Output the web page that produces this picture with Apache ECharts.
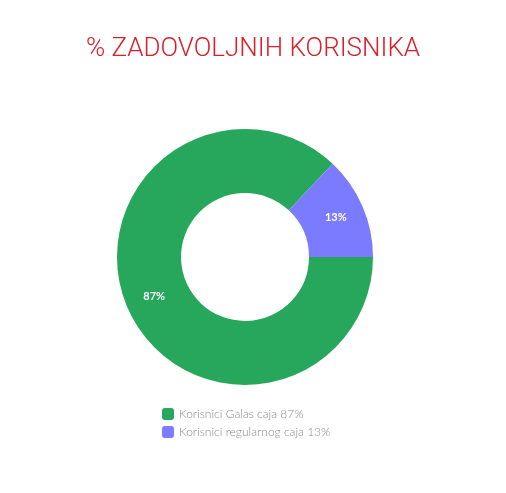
<!DOCTYPE html>
<html><head><meta charset="utf-8">
<style>html,body{margin:0;padding:0;background:#fff}#c{width:506px;height:493px}</style>
<script src="https://cdn.jsdelivr.net/npm/echarts@6/dist/echarts.min.js"></script>
</head><body><div id="c"></div>
<script>
const titleText = '% ZADOVOLJNIH KORISNIKA';
const categories = ['Korisnici Galas caja 87%', 'Korisnici regularnog caja 13%'];
const values = [87, 13];
const colors = ['#27a75b', '#7b7bff'];

const chart = echarts.init(document.getElementById('c'), null, {renderer: 'canvas'});
chart.setOption({
  animation: false,
  title: {
    text: titleText, left: 'center', top: 31,
    textStyle: {color: '#d9202a', fontFamily: 'Roboto', fontWeight: 300, fontSize: 26}
  },
  color: colors,
  legend: {
    orient: 'vertical', left: 157, top: 403, itemWidth: 12, itemHeight: 12, itemGap: 6,
    icon: 'roundRect',
    textStyle: {color: '#8a8a8a', fontFamily: 'Lato', fontWeight: 300, fontSize: 12}
  },
  series: [{
    type: 'pie', center: [245, 257], radius: [64, 128], startAngle: 0, clockwise: true,
    label: {show: true, position: 'inside', formatter: '{c}%', color: '#fff', fontFamily: 'Lato', fontWeight: 'bold', fontSize: 11},
    labelLine: {show: false},
    data: categories.map((n, i) => ({name: n, value: values[i]}))
  }]
});
</script></body></html>
